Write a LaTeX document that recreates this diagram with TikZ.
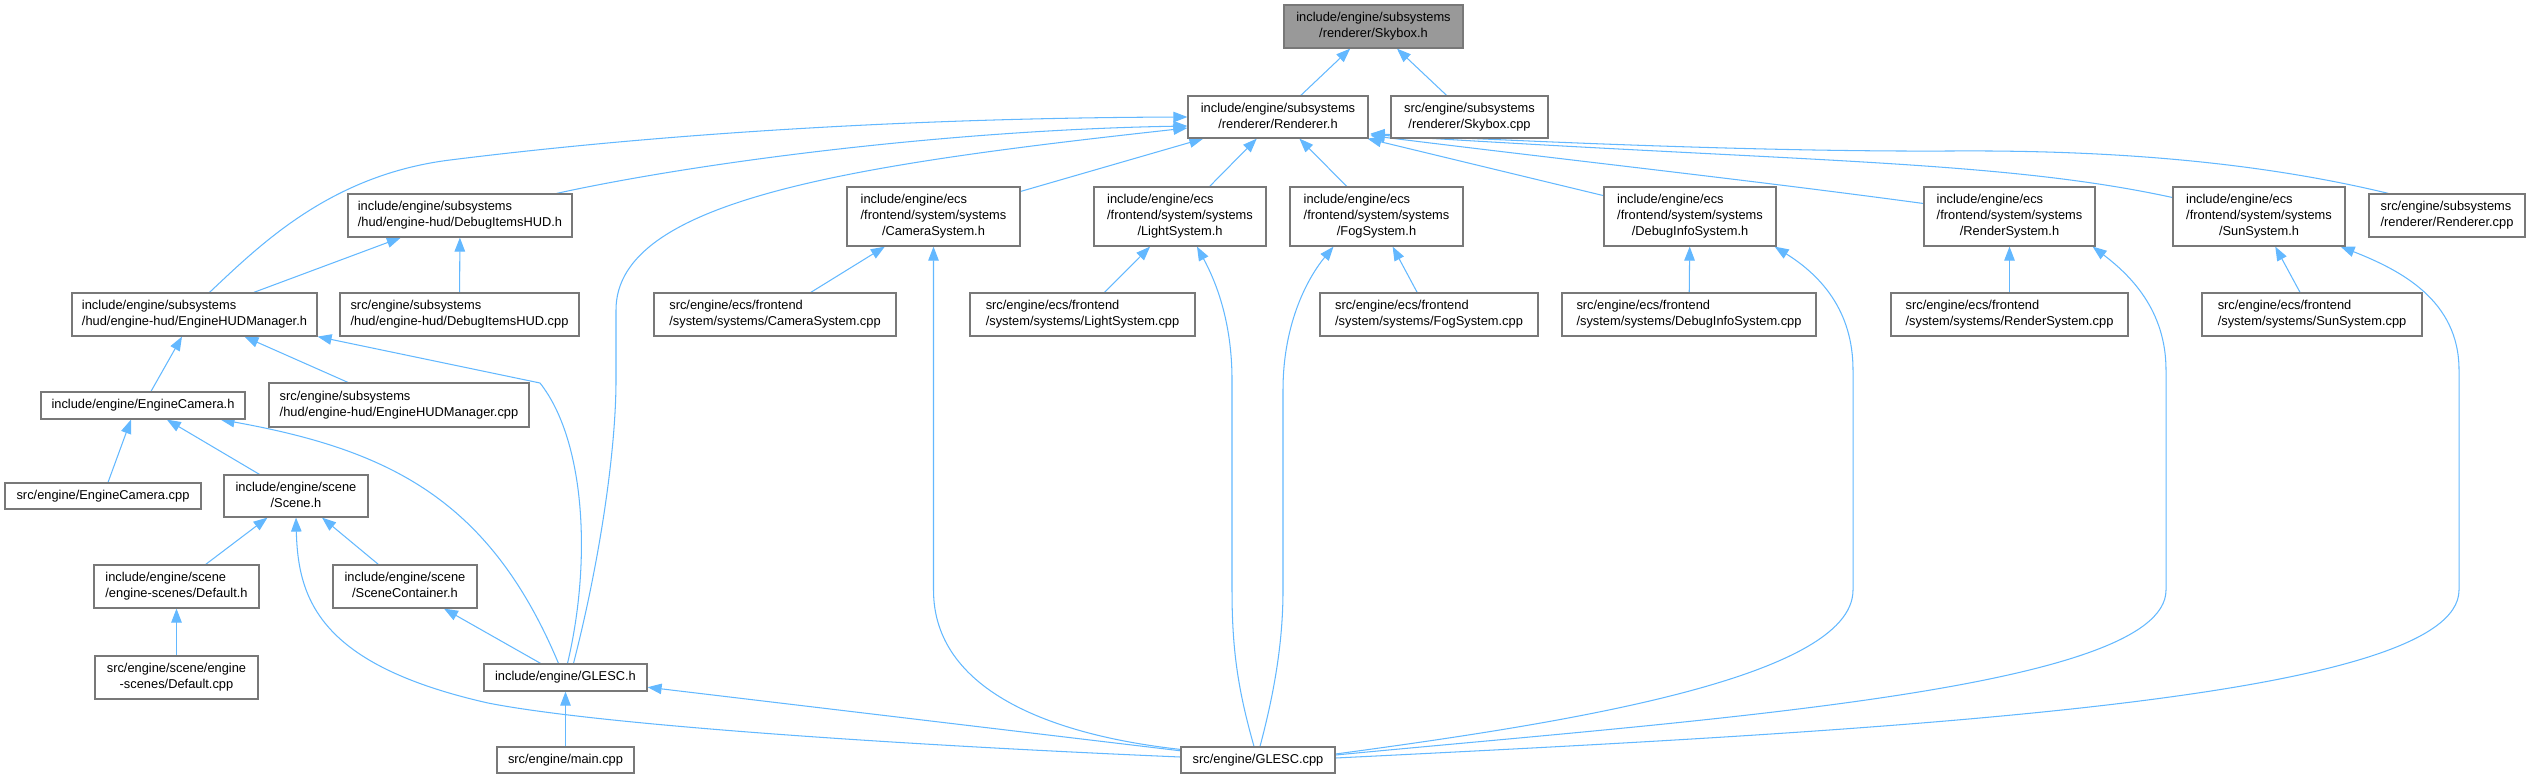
\documentclass[tikz,border=0pt]{standalone}
\usepackage{fontspec}
\setmainfont{Liberation Sans}
\usetikzlibrary{arrows.meta,calc,backgrounds}
\definecolor{edgeblue}{HTML}{63B8FF}
\definecolor{boxgray}{HTML}{787878}
\definecolor{focusgray}{HTML}{999999}
\newcommand{\LblTwo}[2]{\begin{tabular}{@{}l@{}}#1\\\multicolumn{1}{@{}c@{}}{#2}\end{tabular}}
\newcommand{\LblThree}[3]{\begin{tabular}{@{}l@{}}#1\\#2\\\multicolumn{1}{@{}c@{}}{#3}\end{tabular}}
\tikzset{
  nd/.style={draw=boxgray, fill=white, line width=1.2pt, inner sep=0pt, font=\fontsize{12.85pt}{16pt}\selectfont},
  focusnd/.style={nd, fill=focusgray},
  dep/.style={draw=edgeblue, line width=1.05pt, -{Triangle[length=14pt,width=10.5pt]}},
}
\begin{document}
\begin{tikzpicture}[x=1pt,y=-1pt]
\useasboundingbox (0,0) rectangle (2531,779);
% row 0
\node[focusnd, minimum width=179pt, minimum height=43pt] (skyh) at (1373.5,26.5) {\LblTwo{include/engine/subsystems}{/renderer/Skybox.h}};
% row 1
\node[nd, minimum width=180pt, minimum height=42pt] (rendh) at (1278,117) {\LblTwo{include/engine/subsystems}{/renderer/Renderer.h}};
\node[nd, minimum width=157pt, minimum height=42pt] (skycpp) at (1469.5,117) {\LblTwo{src/engine/subsystems}{/renderer/Skybox.cpp}};
% row 2
\node[nd, minimum width=224pt, minimum height=43pt] (dihudh) at (460,215.5) {\LblTwo{include/engine/subsystems}{/hud/engine-hud/DebugItemsHUD.h}};
\node[nd, minimum width=173pt, minimum height=59pt] (camh) at (933.5,216.5) {\LblThree{include/engine/ecs}{/frontend/system/systems}{/CameraSystem.h}};
\node[nd, minimum width=172pt, minimum height=59pt] (lighth) at (1180,216.5) {\LblThree{include/engine/ecs}{/frontend/system/systems}{/LightSystem.h}};
\node[nd, minimum width=173pt, minimum height=59pt] (fogh) at (1376.5,216.5) {\LblThree{include/engine/ecs}{/frontend/system/systems}{/FogSystem.h}};
\node[nd, minimum width=172pt, minimum height=59pt] (dbgih) at (1690,216.5) {\LblThree{include/engine/ecs}{/frontend/system/systems}{/DebugInfoSystem.h}};
\node[nd, minimum width=171pt, minimum height=59pt] (rsysh) at (2009.5,216.5) {\LblThree{include/engine/ecs}{/frontend/system/systems}{/RenderSystem.h}};
\node[nd, minimum width=172pt, minimum height=59pt] (sunh) at (2259,216.5) {\LblThree{include/engine/ecs}{/frontend/system/systems}{/SunSystem.h}};
\node[nd, minimum width=156pt, minimum height=43pt] (rendcpp) at (2447,215.5) {\LblTwo{src/engine/subsystems}{/renderer/Renderer.cpp}};
% row 3
\node[nd, minimum width=245pt, minimum height=43pt] (hudmgrh) at (194.5,314.5) {\LblTwo{include/engine/subsystems}{/hud/engine-hud/EngineHUDManager.h}};
\node[nd, minimum width=239pt, minimum height=43pt] (dihudcpp) at (459.5,314.5) {\LblTwo{src/engine/subsystems}{/hud/engine-hud/DebugItemsHUD.cpp}};
\node[nd, minimum width=242pt, minimum height=43pt] (camcpp) at (775,314.5) {\LblTwo{src/engine/ecs/frontend}{/system/systems/CameraSystem.cpp}};
\node[nd, minimum width=225pt, minimum height=43pt] (lightcpp) at (1082.5,314.5) {\LblTwo{src/engine/ecs/frontend}{/system/systems/LightSystem.cpp}};
\node[nd, minimum width=218pt, minimum height=43pt] (fogcpp) at (1429,314.5) {\LblTwo{src/engine/ecs/frontend}{/system/systems/FogSystem.cpp}};
\node[nd, minimum width=254pt, minimum height=43pt] (dbgicpp) at (1689,314.5) {\LblTwo{src/engine/ecs/frontend}{/system/systems/DebugInfoSystem.cpp}};
\node[nd, minimum width=237pt, minimum height=43pt] (rsyscpp) at (2009.5,314.5) {\LblTwo{src/engine/ecs/frontend}{/system/systems/RenderSystem.cpp}};
\node[nd, minimum width=220pt, minimum height=43pt] (suncpp) at (2312,314.5) {\LblTwo{src/engine/ecs/frontend}{/system/systems/SunSystem.cpp}};
% lower left
\node[nd, minimum width=204pt, minimum height=27pt] (engcamh) at (143,405.5) {include/engine/EngineCamera.h};
\node[nd, minimum width=260pt, minimum height=44pt] (hudmgrcpp) at (399,405) {\LblTwo{src/engine/subsystems}{/hud/engine-hud/EngineHUDManager.cpp}};
\node[nd, minimum width=196pt, minimum height=26pt] (engcamcpp) at (103,496) {src/engine/EngineCamera.cpp};
\node[nd, minimum width=144pt, minimum height=42pt] (sceneh) at (296,496) {\LblTwo{include/engine/scene}{/Scene.h}};
\node[nd, minimum width=165pt, minimum height=43pt] (defh) at (176.5,586.5) {\LblTwo{include/engine/scene}{/engine-scenes/Default.h}};
\node[nd, minimum width=144pt, minimum height=43pt] (scontain) at (405,586.5) {\LblTwo{include/engine/scene}{/SceneContainer.h}};
\node[nd, minimum width=163pt, minimum height=43pt] (defcpp) at (176.5,677.5) {\LblTwo{src/engine/scene/engine}{-scenes/Default.cpp}};
\node[nd, minimum width=163pt, minimum height=27pt] (glesch) at (565.5,677.5) {include/engine/GLESC.h};
\node[nd, minimum width=137pt, minimum height=26pt] (maincpp) at (565.5,760) {src/engine/main.cpp};
\node[nd, minimum width=154pt, minimum height=26pt] (gleccpp) at (1258,760) {src/engine/GLESC.cpp};

\begin{pgfonlayer}{background}
% to Skybox.h
\draw[dep] (rendh) -- (skyh);
\draw[dep] (skycpp) -- (skyh);
% to Renderer.h
\draw[dep] ($(hudmgrh.north)+(15,0)$) .. controls (260,245) and (330,175) .. (450,160) .. controls (650,135) and (900,118) .. (rendh.west);
\draw[dep] ($(dihudh.north east)+(-16,0)$) .. controls (700,162) and (950,130) .. ($(rendh.west)+(0,9)$);
\draw[dep] ($(glesch.north)+(8,0)$) .. controls (600,560) and (616,450) .. (616,380) -- (616,310) .. controls (616,200) and (850,165) .. ($(rendh.west)+(0,11)$);
\draw[dep] (camh) -- (rendh);
\draw[dep] (lighth) -- (rendh);
\draw[dep] (fogh) -- (rendh);
\draw[dep] (dbgih) -- (rendh);
\draw[dep] ($(rsysh.west)+(0,-13)$) .. controls (1750,180) and (1550,158) .. ($(rendh.south east)+(2,-3)$);
\draw[dep] ($(sunh.west)+(0,-19)$) .. controls (2000,160) and (1800,162) .. ($(rendh.south east)+(2,-4)$);
\draw[dep] ($(rendcpp.north west)+(20,0)$) .. controls (2250,160) and (2100,150) .. (1950,151) .. controls (1750,152) and (1500,140) .. ($(rendh.south east)+(2,-5)$);
% to DebugItemsHUD.h
\draw[dep] (hudmgrh) -- (dihudh);
\draw[dep] (dihudcpp) -- (dihudh);
% to EngineHUDManager.h
\draw[dep] (engcamh) -- (hudmgrh);
\draw[dep] (hudmgrcpp) -- (hudmgrh);
\draw[dep] ($(glesch.north)+(2,0)$) .. controls (592,560) and (585,440) .. (540,383) -- (hudmgrh.south east);
% systems
\draw[dep] (camcpp) -- (camh);
\draw[dep] ($(gleccpp.north west)+(0,3)$) .. controls (1050,735) and (933.5,690) .. (933.5,590) -- (camh.south);
\draw[dep] (lightcpp) -- (lighth);
\draw[dep] ($(gleccpp.north)+(-4,0)$) .. controls (1238,690) and (1232,650) .. (1232,590) -- (1232,380) .. controls (1232,320) and (1215,280) .. ($(lighth.south)+(17,0)$);
\draw[dep] (fogcpp) -- (fogh);
\draw[dep] ($(gleccpp.north)+(2,0)$) .. controls (1275,690) and (1283,640) .. (1283,590) -- (1283,390) .. controls (1283,320) and (1310,275) .. ($(fogh.south)+(-43,0)$);
\draw[dep] (dbgicpp) -- (dbgih);
\draw[dep] ($(gleccpp.east)+(0,-6)$) .. controls (1550,725) and (1853,680) .. (1853,590) -- (1853,370) .. controls (1853,310) and (1820,275) .. ($(dbgih.south east)+(-2,0)$);
\draw[dep] (rsyscpp) -- (rsysh);
\draw[dep] ($(gleccpp.east)+(0,-5)$) .. controls (1700,720) and (2166,690) .. (2166,590) -- (2166,370) .. controls (2166,310) and (2130,275) .. ($(rsysh.south east)+(-3,0)$);
\draw[dep] (suncpp) -- (sunh);
\draw[dep] ($(gleccpp.east)+(0,-2)$) .. controls (1900,730) and (2459,700) .. (2459,590) -- (2459,370) .. controls (2459,300) and (2400,270) .. ($(sunh.south east)+(-5,0)$);
% EngineCamera.h
\draw[dep] ($(engcamcpp.north)+(5,0)$) -- ($(engcamh.south)+(-12,0)$);
\draw[dep] (sceneh) -- (engcamh);
\draw[dep] ($(glesch.north)+(-7,0)$) .. controls (490,500) and (390,450) .. ($(engcamh.south east)+(-25,0)$);
% Scene.h
\draw[dep] (defh) -- (sceneh);
\draw[dep] (scontain) -- (sceneh);
\draw[dep] ($(gleccpp.west)+(0,-3)$) .. controls (900,745) and (600,725) .. (488,703) .. controls (320,665) and (298,600) .. (sceneh.south);
% others
\draw[dep] (defcpp) -- (defh);
\draw[dep] (glesch) -- (scontain);
\draw[dep] (maincpp) -- (glesch);
\draw[dep] (gleccpp) -- (glesch);
\end{pgfonlayer}
\end{tikzpicture}
\end{document}
